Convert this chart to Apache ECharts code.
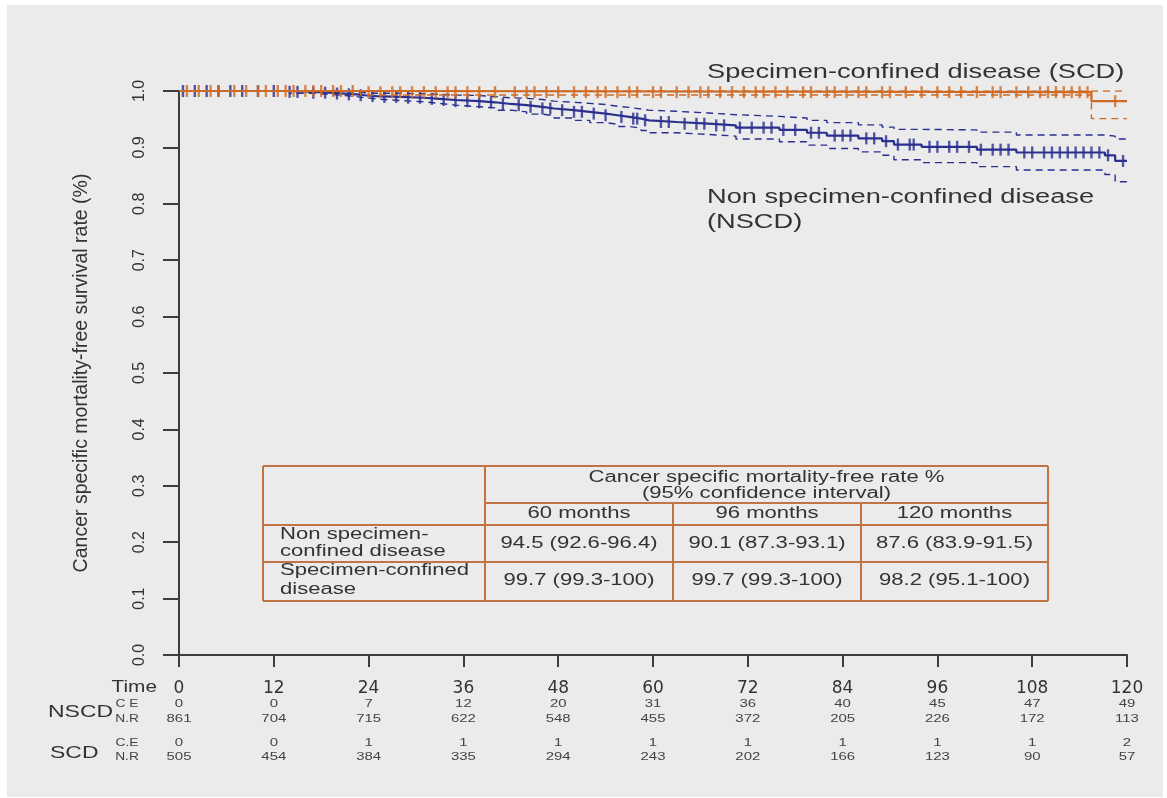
<!DOCTYPE html>
<html><head><meta charset="utf-8">
<script src="https://cdn.jsdelivr.net/npm/echarts@6/dist/echarts.min.js"></script>
<style>html,body{margin:0;padding:0;background:#fff}#c{width:1167px;height:798px}</style>
</head><body><div id="c"></div>
<script>
// ---- data ----
const timeTicks = [0,12,24,36,48,60,72,84,96,108,120];
const nscdCE = [0,0,7,12,20,31,36,40,45,47,49];
const nscdNR = [861,704,715,622,548,455,372,205,226,172,113];
const scdCE = [0,0,1,1,1,1,1,1,1,1,2];
const scdNR = [505,454,384,335,294,243,202,166,123,90,57];

// NSCD Kaplan-Meier steps (time, survival after step) and 95% CI
const nscdT  = [0,14,17,19,21,22.5,23.5,25,28,31,33,35,38,40,42,44,46,47.5,50,52,54,55.5,57,58.5,59.5,63,67,70.5,76,79.5,82,86,89,90.5,94,101,106,117.2,118.5,120];
const nscdS  = [1,0.9985,0.997,0.9955,0.994,0.9925,0.991,0.9895,0.988,0.986,0.984,0.982,0.98,0.977,0.975,0.972,0.969,0.966,0.963,0.96,0.957,0.954,0.951,0.948,0.945,0.942,0.939,0.935,0.931,0.926,0.921,0.916,0.911,0.905,0.901,0.896,0.891,0.886,0.876,0.876];
const nscdUp = [1,1,1,0.999,0.998,0.997,0.996,0.996,0.995,0.994,0.993,0.992,0.99,0.988,0.987,0.985,0.982,0.98,0.978,0.976,0.973,0.971,0.968,0.966,0.964,0.961,0.958,0.955,0.952,0.948,0.944,0.94,0.936,0.932,0.931,0.927,0.922,0.92,0.915,0.915];
const nscdLo = [1,0.996,0.994,0.992,0.99,0.988,0.986,0.983,0.981,0.978,0.975,0.972,0.97,0.966,0.963,0.959,0.956,0.952,0.948,0.944,0.941,0.937,0.934,0.93,0.926,0.923,0.92,0.915,0.91,0.904,0.898,0.892,0.886,0.878,0.873,0.866,0.86,0.852,0.839,0.839];
const nscdCens = [0.5,2,3.5,5,6.5,8,10,12,14,15,17,18.5,20,21.5,23,24.5,26,27.5,29,30.5,32,33.5,35,36.5,38,39.5,41,43,44.5,46,47,48.5,50,51,52.5,54,56,57.5,58,59,61,62,64,65.5,66.5,68,69,71,72.5,74,75,76.5,78,80,81,83,84,85,87,88,89.5,91,92.5,93,95,96,97.5,98.5,100,101.5,103,104,105,107,108,109.5,110.5,111.5,112.5,113.5,114.5,115.5,116.5,117.6,119.5];

// SCD steps and CI
const scdT  = [0,23,115.5,120];
const scdS  = [1,0.998,0.982,0.982];
const scdUp = [1,1,1,1];
const scdLo = [1,0.993,0.951,0.951];
const scdCens = [1,2.5,4,5,7,8.5,10,11,12.5,13.5,14.5,16,17,18,19.5,20.5,22,24,25.5,27,28,29.5,31,32.5,34,35,36.5,38,40,42.5,44,45,46.5,48,50,51.5,53,54,55.5,57,58,60,61,63,64.5,66,67,68.5,70,71.5,73,74,75.5,77,79,80,82,83,84.5,86,87,89,90,92,94,96,97.5,99,101,103,104,106,107.5,109,110,111,112,113,114,115,118.5];

const tableTitle = ['Cancer specific mortality-free rate %','(95% confidence interval)'];
const tableCols = ['60 months','96 months','120 months'];
const tableRows = [['Non specimen-','confined disease'],['Specimen-confined','disease']];
const tableVals = [['94.5 (92.6-96.4)','90.1 (87.3-93.1)','87.6 (83.9-91.5)'],
                   ['99.7 (99.3-100)','99.7 (99.3-100)','98.2 (95.1-100)']];
const labelSCD = 'Specimen-confined disease (SCD)';
const labelNSCD = ['Non specimen-confined disease','(NSCD)'];

// ---- helpers ----
function pairs(T,V){return T.map((t,i)=>[t,V[i]]);}
function survAt(T,S,t){let v=S[0];for(let i=0;i<T.length;i++){if(T[i]<=t)v=S[i];}return v;}

const BLUE='#2b2f8e', ORANGE='#cf6a24', TXT='#333333', AX='#3c3c3c', TBL='#c27542';
const FONT='"Liberation Sans", Arial, sans-serif';

const chart = echarts.init(document.getElementById('c'));
function stepLine(name,T,V,color,dashed,w,z){
  return {name,type:'line',step:'end',data:pairs(T,V),showSymbol:false,symbol:'none',silent:true,z:z,
    lineStyle:{color,width:w,type:dashed?[7,5]:'solid'}};
}
function cens(name,T,S,C,color,z){
  return {name,type:'scatter',data:C.map(t=>[t,survAt(T,S,t)]),symbol:'rect',symbolSize:[2.4,12],
    itemStyle:{color},silent:true,z:z};
}
chart.setOption({
  animation:false,
  backgroundColor:'transparent',
  grid:{left:179,top:91,width:948,height:564,containLabel:false},
  xAxis:{type:'value',min:0,max:120,interval:12,
    axisLine:{show:true,onZero:false,lineStyle:{color:AX,width:2}},
    axisTick:{show:true,length:12,lineStyle:{color:AX,width:2}},
    axisLabel:{show:true,margin:25,color:TXT,fontSize:17,fontFamily:'"DejaVu Sans", sans-serif'},
    splitLine:{show:false}},
  yAxis:{type:'value',min:0,max:1,interval:0.1,
    name:'Cancer specific mortality-free survival rate (%)',nameLocation:'middle',nameGap:87,nameRotate:90,
    nameTextStyle:{color:TXT,fontSize:19.5,fontFamily:FONT},
    axisLine:{show:true,lineStyle:{color:AX,width:2}},
    axisTick:{show:true,length:16,lineStyle:{color:AX,width:2}},
    axisLabel:{rotate:90,margin:31,color:TXT,fontSize:16,fontFamily:FONT,
      formatter:v=>v.toFixed(1)},
    splitLine:{show:false}},
  series:[
    stepLine('NSCD upper',nscdT,nscdUp,BLUE,true,1.4,3),
    stepLine('NSCD lower',nscdT,nscdLo,BLUE,true,1.4,3),
    stepLine('NSCD',nscdT,nscdS,BLUE,false,2.2,4),
    cens('NSCD censored',nscdT,nscdS,nscdCens,BLUE,5),
    stepLine('SCD upper',scdT,scdUp,ORANGE,true,1.4,6),
    stepLine('SCD lower',scdT,scdLo,ORANGE,true,1.4,6),
    stepLine('SCD',scdT,scdS,ORANGE,false,2.2,7),
    cens('SCD censored',scdT,scdS,scdCens,ORANGE,8)
  ]
});

// ---- graphics: background, annotations, table, numbers at risk ----
const g = [];
g.push({type:'rect',silent:true,z:-100,shape:{x:7,y:5,width:1156,height:792},style:{fill:'#ebebeb'}});
function txt(text,x,y,size,sx,align,color){
  g.push({type:'text',x,y,scaleX:sx,silent:true,z:50,
    style:{text,fontSize:size,fontFamily:FONT,fill:color||TXT,align:align||'left',verticalAlign:'middle'}});
}
// annotations
txt(labelSCD,707,72,20,1.36,'left');
txt(labelNSCD[0],707,197,20,1.36,'left');
txt(labelNSCD[1],707,222,20,1.36,'left');
// table lines
function ln(x1,y1,x2,y2){g.push({type:'line',silent:true,z:40,shape:{x1,y1,x2,y2},style:{stroke:TBL,lineWidth:2}});}
const tL=263,tR=1048,tT=466,tB=601,c1=485,c2=673,c3=861,r1=503,r2=525,r3=562;
ln(tL,tT,tR,tT); ln(tL,tB,tR,tB); ln(tL,tT,tL,tB); ln(tR,tT,tR,tB);
ln(c1,tT,c1,tB); ln(c2,r1,c2,tB); ln(c3,r1,c3,tB);
ln(c1,r1,tR,r1); ln(tL,r2,tR,r2); ln(tL,r3,tR,r3);
const colC=[(c1+c2)/2,(c2+c3)/2,(c3+tR)/2];
const TS=16, TX=1.38;
txt(tableTitle[0],(c1+tR)/2,478,TS,TX,'center');
txt(tableTitle[1],(c1+tR)/2,494,TS,TX,'center');
tableCols.forEach((s,i)=>txt(s,colC[i],514,TS,TX,'center'));
txt(tableRows[0][0],280,535,TS,TX,'left');
txt(tableRows[0][1],280,552,TS,TX,'left');
txt(tableRows[1][0],280,571,TS,TX,'left');
txt(tableRows[1][1],280,590,TS,TX,'left');
tableVals.forEach((row,ri)=>row.forEach((s,ci)=>txt(s,colC[ci],ri===0?544:581,TS,TX,'center')));
// numbers at risk
txt('Time',157,688,16,1.3,'right');
txt('NSCD',48,712,17,1.35,'left');
txt('SCD',50,753,17,1.35,'left');
txt('C E',127,704,11,1.25,'center','#444');
txt('N.R',127,719,11,1.25,'center','#444');
txt('C.E',127,743,11,1.25,'center','#444');
txt('N.R',127,757,11,1.25,'center','#444');
timeTicks.forEach((t,i)=>{
  const x = chart.convertToPixel({xAxisIndex:0},t);
  txt(String(nscdCE[i]),x,704,11.5,1.3,'center','#444');
  txt(String(nscdNR[i]),x,719,11.5,1.3,'center','#444');
  txt(String(scdCE[i]),x,743,11.5,1.3,'center','#444');
  txt(String(scdNR[i]),x,757,11.5,1.3,'center','#444');
});
chart.setOption({graphic:g});
</script></body></html>
